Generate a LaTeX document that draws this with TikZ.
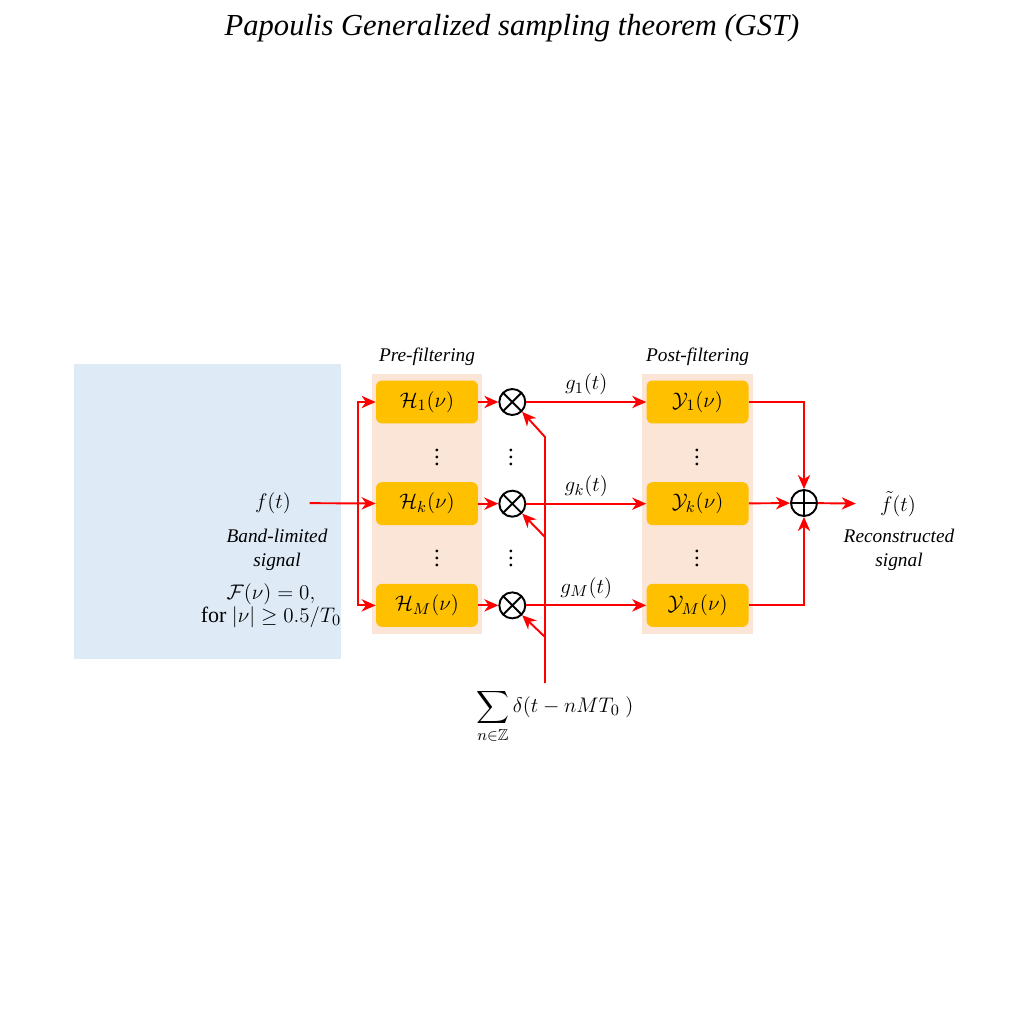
\documentclass[tikz,border=0pt]{standalone}
\usepackage{amsmath,amssymb}
\usepackage{fontspec}
\setmainfont{Liberation Serif}
\usetikzlibrary{positioning,shapes,arrows.meta,fit,calc,backgrounds}

\definecolor{skyfill}{HTML}{DEEBF7}
\definecolor{peach}{HTML}{FBE5D6}
\definecolor{amber}{HTML}{FFC000}

\tikzset{
	filt/.style={rectangle, fill=amber, rounded corners=0.12cm, minimum width=2.04cm, minimum height=0.86cm, inner sep=0pt, font=\fontsize{13}{15}\selectfont},
	mult/.style={circle, draw=black, line width=1.1pt, minimum size=0.52cm, inner sep=0pt, path picture={\draw[line width=1.1pt] (path picture bounding box.north west) -- (path picture bounding box.south east) (path picture bounding box.north east) -- (path picture bounding box.south west);}},
	adder/.style={circle, draw=black, line width=1.1pt, minimum size=0.52cm, inner sep=0pt, path picture={\draw[line width=1.1pt] (path picture bounding box.north) -- (path picture bounding box.south) (path picture bounding box.west) -- (path picture bounding box.east);}},
	sig/.style={draw=red, line width=1.1pt, -{Stealth[length=8pt,width=7pt,inset=2.5pt]}},
	stage/.style={rectangle, fill=peach, inner xsep=0.08cm, inner ysep=0.13cm},
	note/.style={font=\fontsize{11}{13.6}\selectfont\itshape, align=center},
	eq/.style={font=\fontsize{13}{15}\selectfont, align=center},
}

\begin{document}
\begin{tikzpicture}[x=0.02cm, y=-0.02cm, node distance=1.16cm]
	\useasboundingbox (0,0) rectangle (1024,1024);
	\node (title) at (512,28) {\fontsize{17.4}{22}\selectfont\itshape Papoulis Generalized sampling theorem (GST)};
	
	% pre-filters
	\node (h1) [filt] at (427,402) {$\mathcal{H}_1(\nu)$};
	\node (hk) [filt, below=of h1] {$\mathcal{H}_k(\nu)$};
	\node (hm) [filt, below=of hk] {$\mathcal{H}_M(\nu)$};
	
	% multipliers
	\node (m1) [mult, right=0.4cm of h1] {};
	\node (mk) [mult, right=0.4cm of hk] {};
	\node (mm) [mult, right=0.4cm of hm] {};
	
	% post-filters
	\node (y1) [filt, right=2.40cm of m1] {$\mathcal{Y}_1(\nu)$};
	\node (yk) [filt, right=2.40cm of mk] {$\mathcal{Y}_k(\nu)$};
	\node (ym) [filt, right=2.40cm of mm] {$\mathcal{Y}_M(\nu)$};
	
	\node (plus) [adder] at (804,503) {};
	
	% dots
	\node (dh1) [eq] at (437,452) {$\vdots$};
	\node (dh2) [eq] at (437,553) {$\vdots$};
	\node (dm1) [eq] at (511,452) {$\vdots$};
	\node (dm2) [eq] at (511,553) {$\vdots$};
	\node (dy1) [eq] at (697,452) {$\vdots$};
	\node (dy2) [eq] at (697,553) {$\vdots$};
	
	\begin{scope}[on background layer]
		\node (src) [rectangle, fill=skyfill, minimum width=5.34cm, minimum height=5.9cm] at (207.5,511.5) {};
		\node (pre) [stage, fit=(h1)(hm)] {};
		\node (post) [stage, fit=(y1)(ym)] {};
	\end{scope}
	\node [note, above=1pt of pre] {Pre-filtering};
	\node [note, above=1pt of post] {Post-filtering};
	
	% input side
	\node (ft) [eq] at (273,503) {$f(t)$};
	\node (band) [note] at (277,550) {Band-limited\\signal};
	\node (cond) [eq, font=\fontsize{12.5}{14}\selectfont] at (271,606) {$\mathcal{F}(\nu)=0,$\\[-1pt]for $|\nu|\geq 0.5/T_0$};
	\coordinate (split) at (358,503);
	
	\draw[sig, shorten <=0.25cm] (ft) -- (hk);
	\draw[sig] (split) |- (h1);
	\draw[sig] (split) |- (hm);
	
	\draw[sig] (h1) -- (m1);
	\draw[sig] (hk) -- (mk);
	\draw[sig] (hm) -- (mm);
	
	% sampling train
	\node (train) [anchor=north, font=\fontsize{13}{15}\selectfont] at (555,683) {$\displaystyle\sum_{n\in\mathbb{Z}}\delta(t-nMT_0\ )$};
	\coordinate (t1) at (545,437);
	\coordinate (tk) at (545,537);
	\coordinate (tm) at (545,637);
	\draw[sig] (t1 |- train.north) -- (t1) -- (m1.south east);
	\draw[sig] (tk) -- (mk.south east);
	\draw[sig] (tm) -- (mm.south east);
	
	\draw[sig] (m1) -- node[above, eq] {$g_1(t)$} (y1);
	\draw[sig] (mk) -- node[above, eq] {$g_k(t)$} (yk);
	\draw[sig] (mm) -- node[above, eq] {$g_M(t)$} (ym);
	
	% output side
	\draw[sig] (y1) -| (plus);
	\draw[sig] (yk) -- (plus);
	\draw[sig] (ym) -| (plus);
	
	\node (fo) [eq] at (898,504) {$\tilde{f}(t)$};
	\node (rec) [note] at (899,550) {Reconstructed\\signal};
	\draw[sig, shorten >=0.36cm] (plus) -- (fo);
\end{tikzpicture}
\end{document}
